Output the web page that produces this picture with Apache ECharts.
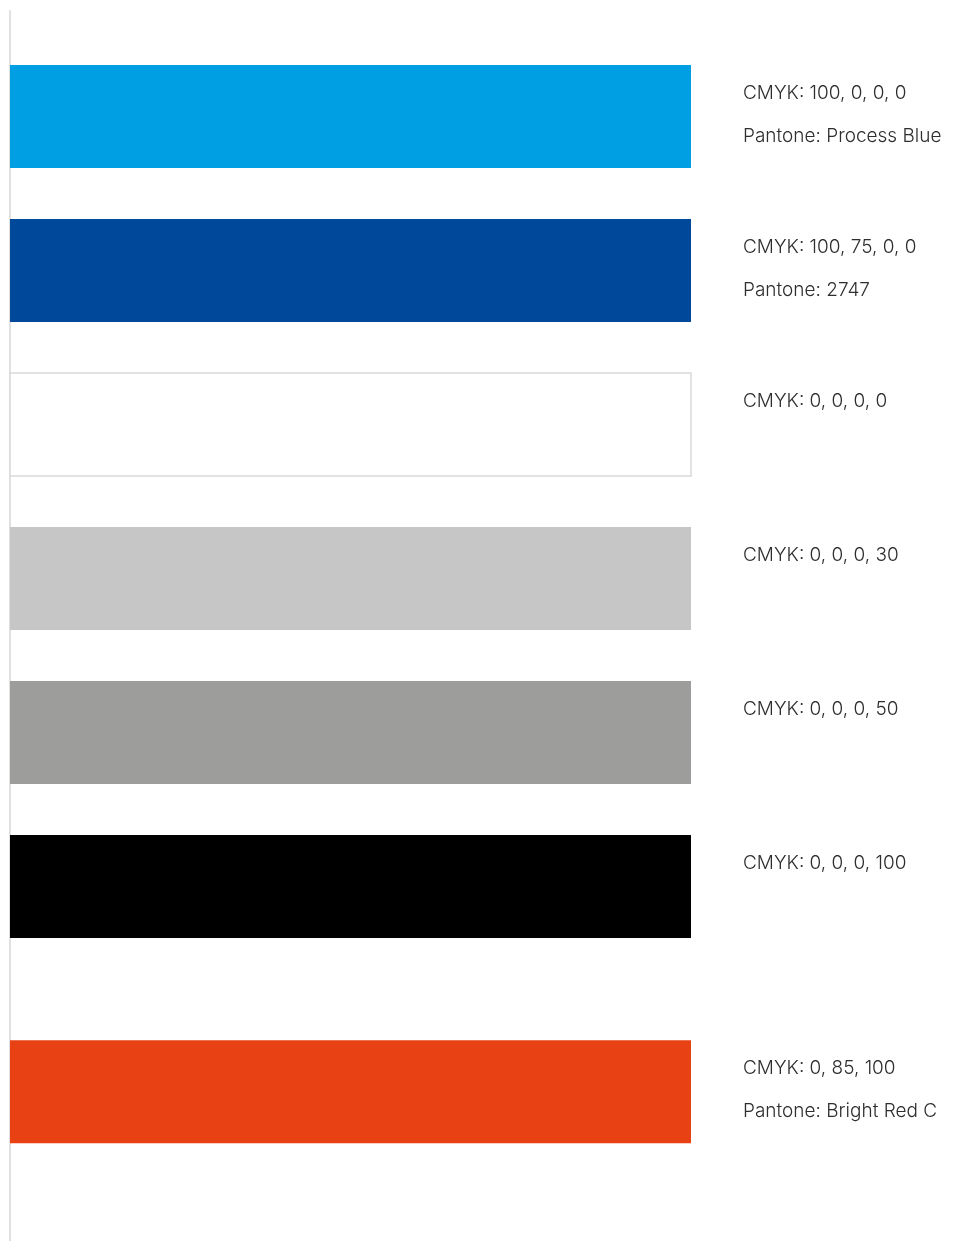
<!DOCTYPE html>
<html>
<head>
<meta charset="utf-8">
<script src="https://cdn.jsdelivr.net/npm/echarts@6/dist/echarts.min.js"></script>
<style>
html,body{margin:0;padding:0;background:#fff;}
#chart{width:954px;height:1241px;}
</style>
</head>
<body>
<div id="chart"></div>
<script>
// Data
const swatchColors = ['#009FE3', '#00499A', '#FFFFFF', '#C6C6C6', '#9D9D9C', '#000000', '#E84113'];
const cmykLabels = ['CMYK: 100, 0, 0, 0', 'CMYK: 100, 75, 0, 0', 'CMYK: 0, 0, 0, 0', 'CMYK: 0, 0, 0, 30', 'CMYK: 0, 0, 0, 50', 'CMYK: 0, 0, 0, 100', 'CMYK: 0, 85, 100'];
const pantoneLabels = ['Pantone: Process Blue', 'Pantone: 2747', '', '', '', '', 'Pantone: Bright Red C'];
const rowPos = [1, 2, 3, 4, 5, 6, 7.333];
const swatchValues = [100, 100, 100, 100, 100, 100, 100];

const chart = echarts.init(document.getElementById('chart'));
const data = swatchValues.map((v, i) => [v, rowPos[i], i]);

chart.setOption({
  animation: false,
  backgroundColor: '#ffffff',
  grid: {left: 10, right: 263, top: 11, bottom: 0},
  xAxis: {type: 'value', min: 0, max: 100, show: false},
  yAxis: {
    type: 'value', inverse: true, min: 0.315, max: 8.302,
    axisLine: {show: true, lineStyle: {color: '#e0e0e0', width: 2}},
    axisTick: {show: false}, axisLabel: {show: false}, splitLine: {show: false}
  },
  series: [{
    type: 'custom',
    data: data,
    clip: false,
    renderItem: function (params, api) {
      const v = api.value(0), pos = api.value(1), idx = api.value(2);
      const s = api.coord([0, pos]);
      const e = api.coord([v, pos]);
      const h = 103;
      const top = s[1] - h / 2;
      const isWhite = swatchColors[idx] === '#FFFFFF';
      const txt = pantoneLabels[idx] ? cmykLabels[idx] + '\n' + pantoneLabels[idx] : cmykLabels[idx];
      return {
        type: 'group',
        children: [{
          type: 'rect',
          shape: {x: s[0], y: top, width: e[0] - s[0], height: h},
          style: {fill: swatchColors[idx], stroke: isWhite ? '#d9d9d9' : null, lineWidth: isWhite ? 1.5 : 0}
        }, {
          type: 'text',
          style: {
            x: e[0] + 52, y: top + 7,
            text: txt,
            fill: '#2e2e2e',
            font: '300 19px Inter',
            lineHeight: 43,
            verticalAlign: 'top',
            align: 'left'
          }
        }]
      };
    }
  }]
});
</script>
</body>
</html>
